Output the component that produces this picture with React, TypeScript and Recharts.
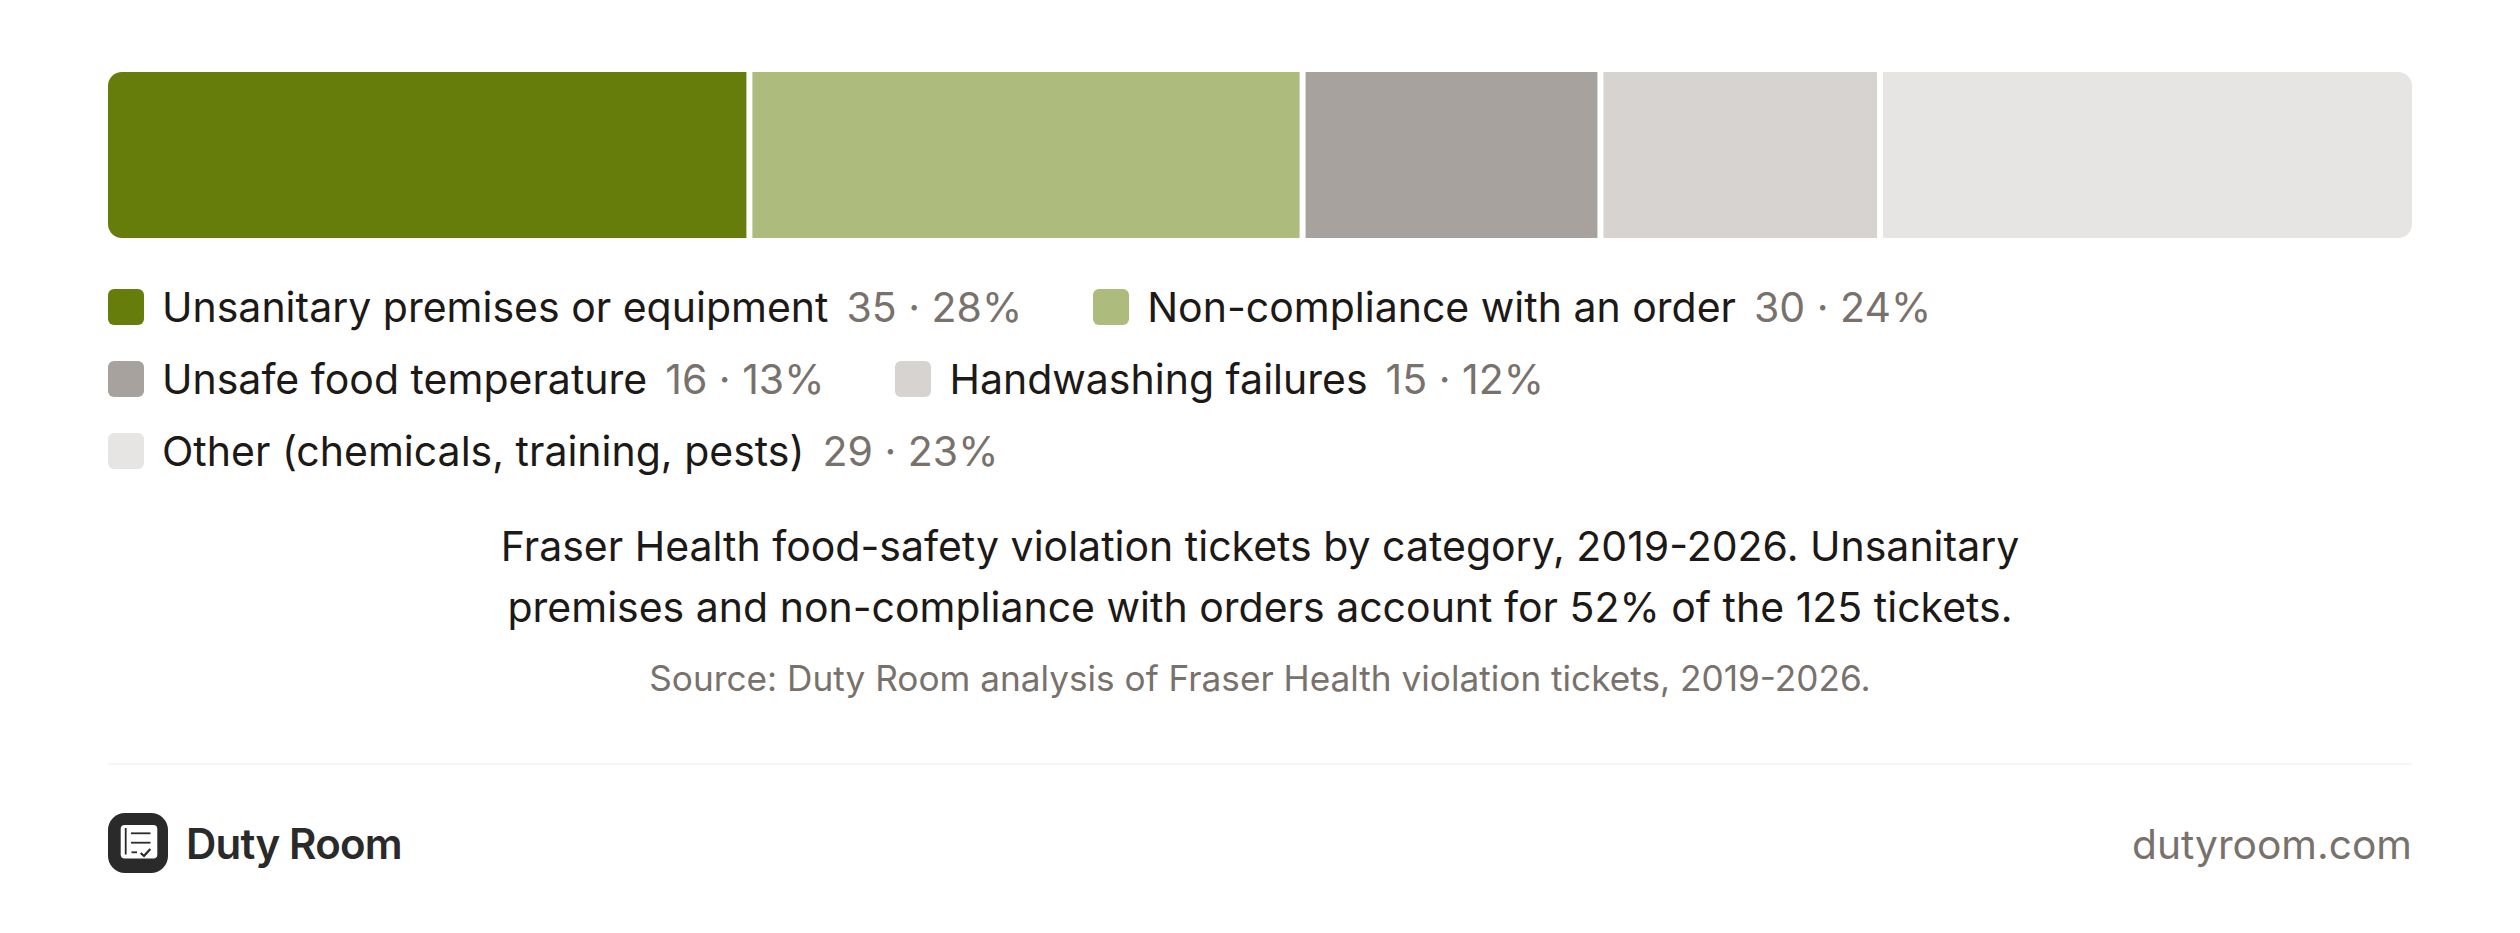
import { BarChart, Bar, XAxis, YAxis, Legend } from "recharts";

const categories = [
  "Unsanitary premises or equipment",
  "Non-compliance with an order",
  "Unsafe food temperature",
  "Handwashing failures",
  "Other (chemicals, training, pests)",
];
const tickets = [35, 30, 16, 15, 29];
const shares = [28, 24, 13, 12, 23];
const colors = ["#677d0b", "#adbb7c", "#a8a29e", "#d6d3d1", "#e7e5e4"];

const total = 125;
const WIDTH = 2520;
const HEIGHT = 933;
const BAR_LEFT = 108;
const BAR_WIDTH = 2304;
const GAP_PX = 6;
// the white gaps between segments are transparent stacked spacers
const gap = (total * GAP_PX) / (BAR_WIDTH - 4 * GAP_PX);

const row: Record<string, number | string> = { name: "tickets" };
categories.forEach((c, i) => {
  row[c] = tickets[i];
  if (i < categories.length - 1) row["gap" + i] = gap;
});
const data = [row];

const FONT = "Inter, 'Noto Sans', sans-serif";
const INK = "#1c1917";
const MUTED = "#78716c";

function LegendRows({ payload }: any) {
  const items = categories.map((c) => (payload || []).find((p: any) => p.value === c)).filter(Boolean);
  return (
    <div
      style={{
        display: "flex",
        flexWrap: "wrap",
        columnGap: 71,
        rowGap: 24,
        fontFamily: FONT,
        fontSize: 41,
        lineHeight: "48px",
      }}
    >
      {items.map((p: any) => {
        const i = categories.indexOf(p.value);
        return (
          <div key={p.value} style={{ display: "flex", alignItems: "center", whiteSpace: "nowrap" }}>
            <span
              style={{ width: 36, height: 36, borderRadius: 6, background: p.color, marginRight: 18, display: "inline-block" }}
            />
            <span style={{ color: INK }}>{p.value}</span>
            <span style={{ color: MUTED, marginLeft: 18 }}>
              {tickets[i]} · {shares[i]}%
            </span>
          </div>
        );
      })}
    </div>
  );
}

function Logo() {
  return (
    <svg width={60} height={60} viewBox="0 0 60 60" style={{ position: "absolute", left: 108, top: 813 }}>
      <rect width={60} height={60} rx={17} fill="#2b2a2a" />
      <rect x={12.7} y={12} width={36.6} height={33.5} rx={4} fill="#fff" />
      <g stroke="#2b2a2a" strokeWidth={1.8} fill="none">
        <path d="M17.7 15V41.5" />
        <path d="M23 20.3H42.5" />
        <path d="M23 29.7H42.5" />
        <path d="M23.5 39.3H29" />
        <path d="M32.7 40l3.3 3 6.3-7" strokeWidth={2.2} />
      </g>
    </svg>
  );
}

export default function App() {
  return (
    <div style={{ position: "absolute", left: 0, top: 0, width: WIDTH, height: HEIGHT, background: "#fff", overflow: "hidden" }}>
      <BarChart
        width={WIDTH}
        height={HEIGHT}
        layout="vertical"
        data={data}
        barCategoryGap={0}
        margin={{ top: 72, right: BAR_LEFT, bottom: 695, left: BAR_LEFT }}
      >
        <XAxis type="number" hide domain={[0, total + 4 * gap]} />
        <YAxis type="category" dataKey="name" hide />
        <Legend
          layout="horizontal"
          align="center"
          verticalAlign="middle"
          wrapperStyle={{ left: BAR_LEFT, top: 283, width: BAR_WIDTH }}
          content={<LegendRows />}
        />
        {categories.flatMap((c, i) => {
          const last = i === categories.length - 1;
          const radius: [number, number, number, number] =
            i === 0 ? [14, 0, 0, 14] : last ? [0, 14, 14, 0] : [0, 0, 0, 0];
          const bars = [
            <Bar key={c} dataKey={c} stackId="a" fill={colors[i]} radius={radius} isAnimationActive={false} />,
          ];
          if (!last) {
            bars.push(
              <Bar key={"gap" + i} dataKey={"gap" + i} stackId="a" fill="none" legendType="none" isAnimationActive={false} />
            );
          }
          return bars;
        })}
      </BarChart>

      <div
        style={{
          position: "absolute",
          left: 0,
          width: WIDTH,
          top: 516,
          textAlign: "center",
          fontFamily: FONT,
          fontSize: 41,
          lineHeight: "61px",
          color: INK,
        }}
      >
        Fraser Health food-safety violation tickets by category, 2019-2026. Unsanitary
        <br />
        premises and non-compliance with orders account for 52% of the 125 tickets.
      </div>
      <div
        style={{
          position: "absolute",
          left: 0,
          width: WIDTH,
          top: 658,
          textAlign: "center",
          fontFamily: FONT,
          fontSize: 35.2,
          lineHeight: "40px",
          color: MUTED,
        }}
      >
        Source: Duty Room analysis of Fraser Health violation tickets, 2019-2026.
      </div>

      <div style={{ position: "absolute", left: BAR_LEFT, top: 763, width: BAR_WIDTH, height: 2, background: "#f5f5f4" }} />

      <Logo />
      <div
        style={{
          position: "absolute",
          left: 186,
          top: 819,
          fontFamily: FONT,
          fontSize: 42,
          fontWeight: 600,
          lineHeight: "50px",
          color: "#2b2a2a",
          letterSpacing: -0.8,
        }}
      >
        Duty Room
      </div>
      <div
        style={{
          position: "absolute",
          right: WIDTH - 2412,
          top: 820,
          fontFamily: FONT,
          fontSize: 40.7,
          lineHeight: "50px",
          color: MUTED,
        }}
      >
        dutyroom.com
      </div>
    </div>
  );
}
